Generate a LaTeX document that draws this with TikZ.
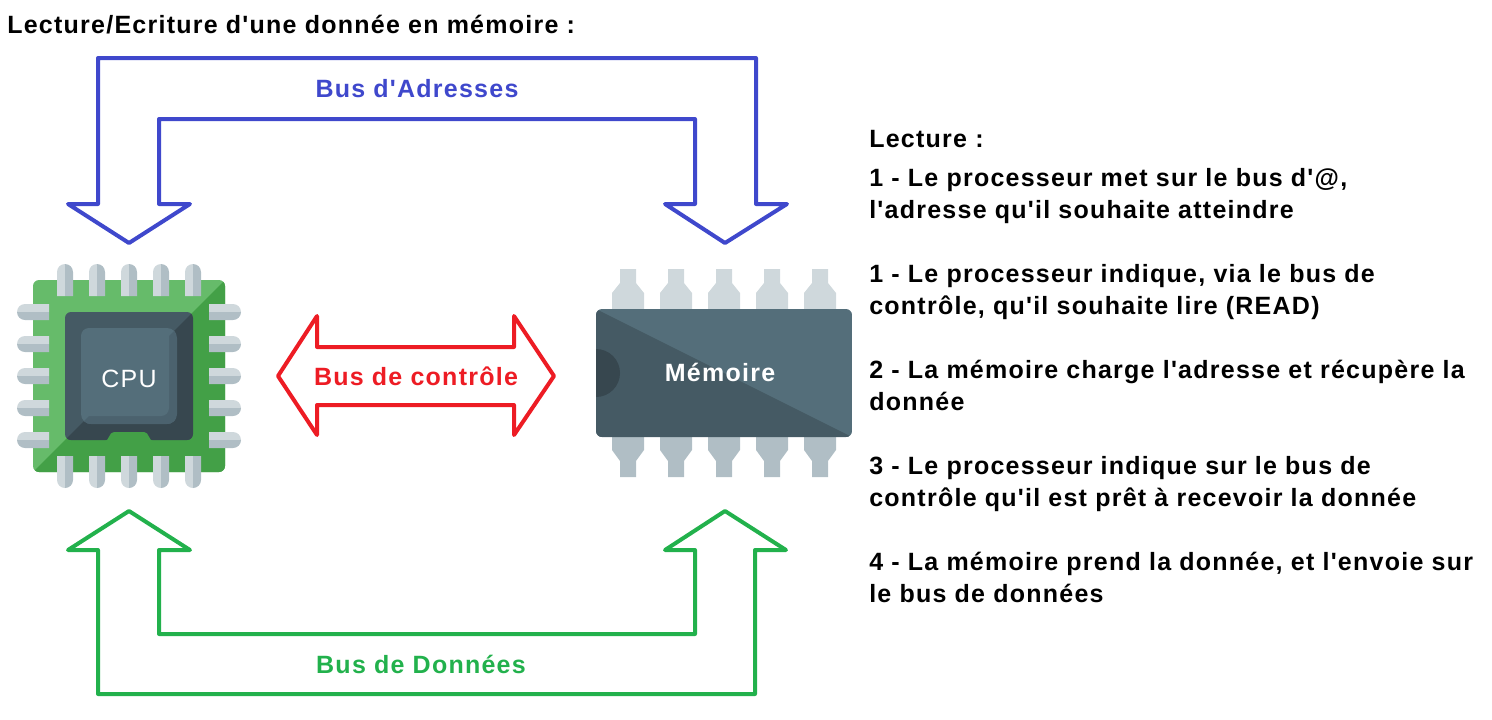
\documentclass[tikz,border=0pt]{standalone}
\usepackage{fontspec}
\newfontfamily\pixfont[LetterSpace=5]{Liberation Sans}
\usepackage{tikz}
\usetikzlibrary{arrows,shapes,positioning}

\definecolor{busblue}{HTML}{3F48CC}
\definecolor{busred}{HTML}{ED1C24}
\definecolor{busgreen}{HTML}{22B14C}
\definecolor{chiplight}{HTML}{66BB6A}
\definecolor{chipdark}{HTML}{43A047}
\definecolor{pinlight}{HTML}{CFD8DC}
\definecolor{pindark}{HTML}{B0BEC5}
\definecolor{dielight}{HTML}{546E7A}
\definecolor{diemid}{HTML}{4B626E}
\definecolor{diedark}{HTML}{455A64}
\definecolor{dienight}{HTML}{37474F}

\tikzstyle{txt} = [inner sep=0pt, anchor=base west, font=\pixfont\fontsize{18.75}{22}\bfseries\selectfont]
\tikzstyle{label} = [inner sep=0pt, anchor=base, font=\pixfont\fontsize{18.75}{22}\bfseries\selectfont]
\tikzstyle{bus} = [line width=3pt, line join=round, line cap=round]

\begin{document}
\begin{tikzpicture}[x=0.75pt, y=-0.75pt]

\useasboundingbox (0,0) rectangle (1492,719);

% buses
\draw [bus, busblue] (98,58) -- (756,58) -- (756,204) -- (787,204) -- (725,243) -- (665,204) -- (695,204) -- (695,119) -- (159,119) -- (159,204) -- (190,204) -- (129,243) -- (68,204) -- (98,204) -- cycle;
\draw [bus, busgreen] (98,694) -- (755,694) -- (755,550) -- (786,550) -- (725,511) -- (665,550) -- (695,550) -- (695,634) -- (159,634) -- (159,550) -- (190,550) -- (129,511) -- (68,550) -- (98,550) -- cycle;
\draw [bus, busred] (278,376) -- (317,316) -- (317,347) -- (514,347) -- (514,316) -- (554,376) -- (514,435) -- (514,405) -- (317,405) -- (317,435) -- cycle;

% cpu
\fill [chiplight, rounded corners=4.5pt] (33,280) rectangle (225,472);
\begin{scope}
\clip [rounded corners=4.5pt] (33,280) rectangle (225,472);
\fill [chipdark] (225,280) -- (225,472) -- (33,472) -- cycle;
\end{scope}

\foreach \p in {65,97,129,161,193} {
  \fill [pinlight] (\p-8,296) -- (\p-8,272) arc[start angle=180, end angle=90, radius=6pt] -- (\p,296) -- cycle;
  \fill [pindark] (\p+8,296) -- (\p+8,272) arc[start angle=0, end angle=90, radius=6pt] -- (\p,296) -- cycle;
  \fill [pinlight] (\p-8,456) -- (\p-8,480) arc[start angle=180, end angle=270, radius=6pt] -- (\p,456) -- cycle;
  \fill [pindark] (\p+8,456) -- (\p+8,480) arc[start angle=0, end angle=-90, radius=6pt] -- (\p,456) -- cycle;
}
\foreach \p in {312,344,376,408,440} {
  \fill [pinlight] (49,\p-8) -- (25,\p-8) arc[start angle=90, end angle=180, radius=6pt] -- (49,\p) -- cycle;
  \fill [pindark] (49,\p+8) -- (25,\p+8) arc[start angle=270, end angle=180, radius=6pt] -- (49,\p) -- cycle;
  \fill [pinlight] (209,\p-8) -- (233,\p-8) arc[start angle=90, end angle=0, radius=6pt] -- (209,\p) -- cycle;
  \fill [pindark] (209,\p+8) -- (233,\p+8) arc[start angle=270, end angle=360, radius=6pt] -- (209,\p) -- cycle;
}

\begin{scope}
\clip [rounded corners=4.5pt] (65,312) rectangle (193,440);
\fill [diedark] (65,312) rectangle (193,440);
\fill [dienight] (193,312) -- (193,440) -- (65,440) -- cycle;
\end{scope}
\fill [chipdark] (105,441) .. controls (109,441) and (109,432) .. (114,432) -- (144,432) .. controls (149,432) and (149,441) .. (153,441) -- cycle;

\begin{scope}
\clip [rounded corners=7.5pt] (81,328) rectangle (177,424);
\fill [dielight] (81,328) rectangle (177,424);
\fill [diemid] (177,328) -- (177,424) -- (81,424) -- cycle;
\end{scope}
\fill [dielight, rounded corners=6pt] (81,328) rectangle (169,416);

% memoire
\foreach \p in {628,676,724,772,820} {
  \fill [pinlight] (\p-8,269) -- (\p+8,269) -- (\p+8,283) -- (\p+16,293) -- (\p+16,310) -- (\p-16,310) -- (\p-16,293) -- (\p-8,283) -- cycle;
  \fill [pindark] (\p-16,436) -- (\p+16,436) -- (\p+16,450) -- (\p+8,461) -- (\p+8,477) -- (\p-8,477) -- (\p-8,461) -- (\p-16,450) -- cycle;
}
\begin{scope}
\clip [rounded corners=4.5pt] (596,309) rectangle (852,437);
\fill [dielight] (596,309) rectangle (852,437);
\fill [diedark] (596,309) -- (852,437) -- (596,437) -- cycle;
\fill [dienight] (596,349) arc[start angle=90, end angle=-90, radius=18pt] -- cycle;
\end{scope}

% labels
\node (cpu) [label, white, font=\pixfont\fontsize{18.75}{22}\selectfont] at (129,387) {CPU};
\node (mem) [label, white] at (720,381) {Mémoire};
\node (addr) [label, busblue] at (417,97) {Bus d'Adresses};
\node (ctrl) [label, busred] at (416,385) {Bus de contrôle};
\node (data) [label, busgreen] at (421,673) {Bus de Données};

\node (title) [txt] at (7,33) {Lecture/Ecriture d'une donnée en mémoire :};

\node (lect) [txt] at (869,147) {Lecture :};
\node (a1) [txt] at (869,186) {1 - Le processeur met sur le bus d'@,};
\node (a2) [txt] at (869,218) {l'adresse qu'il souhaite atteindre};
\node (b1) [txt] at (869,282) {1 - Le processeur indique, via le bus de};
\node (b2) [txt] at (869,314) {contrôle, qu'il souhaite lire (READ)};
\node (c1) [txt] at (869,378) {2 - La mémoire charge l'adresse et récupère la};
\node (c2) [txt] at (869,410) {donnée};
\node (d1) [txt] at (869,474) {3 - Le processeur indique sur le bus de};
\node (d2) [txt] at (869,506) {contrôle qu'il est prêt à recevoir la donnée};
\node (e1) [txt] at (869,570) {4 - La mémoire prend la donnée, et l'envoie sur};
\node (e2) [txt] at (869,602) {le bus de données};

\end{tikzpicture}
\end{document}
